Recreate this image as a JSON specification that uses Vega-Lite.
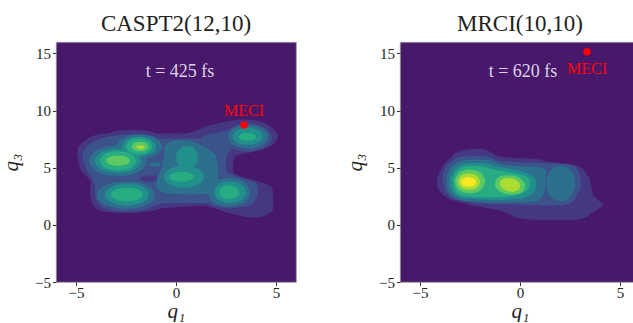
{
"$schema": "https://vega.github.io/schema/vega-lite/v6.json",
"background": "white",
"padding": {"left": 0, "top": 13, "right": 0, "bottom": 0},
"spacing": 47,
"config": {
  "view": {"fill": "#48186a", "stroke": "#999999", "strokeWidth": 0.8},
  "font": "Liberation Serif",
  "axis": {"grid": false, "domain": false, "tickColor": "#333333", "tickSize": 3.5, "labelFont": "Liberation Serif", "labelFontSize": 15, "labelColor": "#222222", "labelPadding": 2, "titleFont": "Liberation Serif", "titleFontSize": 21, "titleFontStyle": "italic", "titleFontWeight": "normal", "titleColor": "#222222"},
  "axisX": {"titlePadding": 0, "labelPadding": 0},
  "axisY": {"titlePadding": 13}
},
"data": {"values": [
{"p":"A","k":"c","z":1,"l":1,"g":"a1a","y":1.7,"x":-4.15,"x2":4.85},
{"p":"A","k":"c","z":1,"l":1,"g":"a1a","y":2.25,"x":-4.25,"x2":4.85},
{"p":"A","k":"c","z":1,"l":1,"g":"a1a","y":2.75,"x":-4.3,"x2":4.85},
{"p":"A","k":"c","z":1,"l":1,"g":"a1a","y":3.25,"x":-4.3,"x2":4.8},
{"p":"A","k":"c","z":1,"l":1,"g":"a1a","y":3.75,"x":-4.25,"x2":4.2},
{"p":"A","k":"c","z":1,"l":1,"g":"a1a","y":4.1,"x":-4.4,"x2":3.5},
{"p":"A","k":"c","z":1,"l":1,"g":"a1a","y":4.4,"x":-4.55,"x2":3.0},
{"p":"A","k":"c","z":1,"l":1,"g":"a1a","y":4.75,"x":-4.75,"x2":2.85},
{"p":"A","k":"c","z":1,"l":1,"g":"a1a","y":5.25,"x":-4.85,"x2":2.85},
{"p":"A","k":"c","z":1,"l":1,"g":"a1a","y":5.75,"x":-4.9,"x2":2.9},
{"p":"A","k":"c","z":1,"l":1,"g":"a1a","y":6.0,"x":-4.93,"x2":2.95},
{"p":"A","k":"c","z":1,"l":1,"g":"a1a","y":6.2,"x":-4.95,"x2":3.3},
{"p":"A","k":"c","z":1,"l":1,"g":"a1a","y":6.4,"x":-4.93,"x2":3.9},
{"p":"A","k":"c","z":1,"l":1,"g":"a1a","y":6.7,"x":-4.9,"x2":4.5},
{"p":"A","k":"c","z":1,"l":1,"g":"a1a","y":7.0,"x":-4.8,"x2":4.85},
{"p":"A","k":"c","z":1,"l":1,"g":"a1a","y":7.5,"x":-4.45,"x2":5.05},
{"p":"A","k":"c","z":1,"l":1,"g":"a1a","y":7.9,"x":-3.9,"x2":5.1},
{"p":"A","k":"c","z":1,"l":1,"g":"a1a","y":8.0,"x":-3.6,"x2":5.05},
{"p":"A","k":"c","z":1,"l":1,"g":"a1b","y":7.7,"x":-3.6,"x2":-0.9},
{"p":"A","k":"c","z":1,"l":1,"g":"a1b","y":8.05,"x":-3.3,"x2":-1.1},
{"p":"A","k":"c","z":1,"l":1,"g":"a1b","y":8.2,"x":-3.0,"x2":-1.35},
{"p":"A","k":"c","z":1,"l":1,"g":"a1b","y":8.3,"x":-2.5,"x2":-1.9},
{"p":"A","k":"c","z":1,"l":1,"g":"a1c","y":7.7,"x":-0.6,"x2":5.1},
{"p":"A","k":"c","z":1,"l":1,"g":"a1c","y":8.0,"x":0.5,"x2":5.05},
{"p":"A","k":"c","z":1,"l":1,"g":"a1c","y":8.25,"x":1.0,"x2":4.95},
{"p":"A","k":"c","z":1,"l":1,"g":"a1c","y":8.5,"x":1.3,"x2":4.8},
{"p":"A","k":"c","z":1,"l":1,"g":"a1c","y":8.75,"x":1.8,"x2":4.6},
{"p":"A","k":"c","z":1,"l":1,"g":"a1c","y":9.0,"x":2.4,"x2":4.3},
{"p":"A","k":"c","z":1,"l":1,"g":"a1c","y":9.15,"x":2.9,"x2":3.9},
{"p":"A","k":"c","z":1,"l":1,"g":"a1c","y":9.22,"x":3.3,"x2":3.5},
{"p":"A","k":"c","z":1,"l":1,"g":"a1d","y":1.05,"x":-3.0,"x2":-2.0},
{"p":"A","k":"c","z":1,"l":1,"g":"a1d","y":1.2,"x":-3.7,"x2":-1.3},
{"p":"A","k":"c","z":1,"l":1,"g":"a1d","y":1.45,"x":-4.0,"x2":-0.6},
{"p":"A","k":"c","z":1,"l":1,"g":"a1d","y":1.75,"x":-4.15,"x2":1.9},
{"p":"A","k":"c","z":1,"l":1,"g":"a1e","y":0.65,"x":3.6,"x2":4.2},
{"p":"A","k":"c","z":1,"l":1,"g":"a1e","y":0.8,"x":3.2,"x2":4.45},
{"p":"A","k":"c","z":1,"l":1,"g":"a1e","y":1.1,"x":2.5,"x2":4.75},
{"p":"A","k":"c","z":1,"l":1,"g":"a1e","y":1.4,"x":2.0,"x2":4.85},
{"p":"A","k":"c","z":1,"l":1,"g":"a1e","y":1.75,"x":1.3,"x2":4.85},
{"p":"A","k":"c","z":2,"l":2,"g":"a2a","y":1.9,"x":-3.9,"x2":3.9},
{"p":"A","k":"c","z":2,"l":2,"g":"a2a","y":2.25,"x":-4.0,"x2":4.0},
{"p":"A","k":"c","z":2,"l":2,"g":"a2a","y":2.75,"x":-4.05,"x2":4.1},
{"p":"A","k":"c","z":2,"l":2,"g":"a2a","y":3.25,"x":-4.05,"x2":4.1},
{"p":"A","k":"c","z":2,"l":2,"g":"a2a","y":3.75,"x":-4.1,"x2":3.9},
{"p":"A","k":"c","z":2,"l":2,"g":"a2a","y":4.1,"x":-4.2,"x2":3.25},
{"p":"A","k":"c","z":2,"l":2,"g":"a2a","y":4.4,"x":-4.3,"x2":2.8},
{"p":"A","k":"c","z":2,"l":2,"g":"a2a","y":4.75,"x":-4.45,"x2":2.5},
{"p":"A","k":"c","z":2,"l":2,"g":"a2a","y":5.25,"x":-4.55,"x2":2.5},
{"p":"A","k":"c","z":2,"l":2,"g":"a2a","y":5.75,"x":-4.65,"x2":2.5},
{"p":"A","k":"c","z":2,"l":2,"g":"a2a","y":6.25,"x":-4.65,"x2":2.6},
{"p":"A","k":"c","z":2,"l":2,"g":"a2a","y":6.75,"x":-4.5,"x2":2.8},
{"p":"A","k":"c","z":2,"l":2,"g":"a2a","y":7.25,"x":-4.15,"x2":3.0},
{"p":"A","k":"c","z":2,"l":2,"g":"a2a","y":7.55,"x":-3.7,"x2":2.6},
{"p":"A","k":"c","z":2,"l":2,"g":"a2b","y":7.4,"x":-3.9,"x2":-0.9},
{"p":"A","k":"c","z":2,"l":2,"g":"a2b","y":7.7,"x":-3.4,"x2":-1.0},
{"p":"A","k":"c","z":2,"l":2,"g":"a2b","y":7.85,"x":-2.9,"x2":-1.3},
{"p":"A","k":"c","z":2,"l":2,"g":"a2b","y":7.92,"x":-2.3,"x2":-1.8},
{"p":"A","k":"c","z":2,"l":2,"g":"a2c","y":6.4,"x":3.5,"x2":3.7},
{"p":"A","k":"c","z":2,"l":2,"g":"a2c","y":6.6,"x":2.95,"x2":4.2},
{"p":"A","k":"c","z":2,"l":2,"g":"a2c","y":7.0,"x":2.5,"x2":4.6},
{"p":"A","k":"c","z":2,"l":2,"g":"a2c","y":7.4,"x":1.6,"x2":4.75},
{"p":"A","k":"c","z":2,"l":2,"g":"a2c","y":7.65,"x":1.3,"x2":4.8},
{"p":"A","k":"c","z":2,"l":2,"g":"a2c","y":7.9,"x":1.6,"x2":4.75},
{"p":"A","k":"c","z":2,"l":2,"g":"a2c","y":8.25,"x":2.55,"x2":4.6},
{"p":"A","k":"c","z":2,"l":2,"g":"a2c","y":8.6,"x":2.9,"x2":4.3},
{"p":"A","k":"c","z":2,"l":2,"g":"a2c","y":8.85,"x":3.3,"x2":3.9},
{"p":"A","k":"c","z":2,"l":2,"g":"a2c","y":8.92,"x":3.55,"x2":3.65},
{"p":"A","k":"c","z":2,"l":2,"g":"a2d","y":1.15,"x":-2.8,"x2":-2.2},
{"p":"A","k":"c","z":2,"l":2,"g":"a2d","y":1.3,"x":-3.3,"x2":-1.6},
{"p":"A","k":"c","z":2,"l":2,"g":"a2d","y":1.6,"x":-3.75,"x2":-1.2},
{"p":"A","k":"c","z":2,"l":2,"g":"a2d","y":1.95,"x":-3.9,"x2":-0.5},
{"p":"A","k":"c","z":2,"l":2,"g":"a2e","y":1.45,"x":2.5,"x2":2.9},
{"p":"A","k":"c","z":2,"l":2,"g":"a2e","y":1.6,"x":2.0,"x2":3.5},
{"p":"A","k":"c","z":2,"l":2,"g":"a2e","y":1.95,"x":1.6,"x2":3.9},
{"p":"A","k":"c","z":3,"l":1,"g":"ap","y":3.75,"x":-1.3,"x2":-1.3},
{"p":"A","k":"c","z":3,"l":1,"g":"ap","y":3.85,"x":-1.65,"x2":-0.95},
{"p":"A","k":"c","z":3,"l":1,"g":"ap","y":4.05,"x":-1.8,"x2":-0.8},
{"p":"A","k":"c","z":3,"l":1,"g":"ap","y":4.25,"x":-1.65,"x2":-0.95},
{"p":"A","k":"c","z":3,"l":1,"g":"ap","y":4.35,"x":-1.3,"x2":-1.3},
{"p":"A","k":"c","z":4,"l":3,"g":"a3a","y":4.25,"x":-2.9,"x2":-2.9},
{"p":"A","k":"c","z":4,"l":3,"g":"a3a","y":4.318,"x":-3.352,"x2":-2.448},
{"p":"A","k":"c","z":4,"l":3,"g":"a3a","y":4.52,"x":-3.77,"x2":-2.03},
{"p":"A","k":"c","z":4,"l":3,"g":"a3a","y":4.925,"x":-4.156,"x2":-1.644},
{"p":"A","k":"c","z":4,"l":3,"g":"a3a","y":5.6,"x":-4.35,"x2":-1.45},
{"p":"A","k":"c","z":4,"l":3,"g":"a3a","y":6.275,"x":-4.156,"x2":-1.644},
{"p":"A","k":"c","z":4,"l":3,"g":"a3a","y":6.68,"x":-3.77,"x2":-2.03},
{"p":"A","k":"c","z":4,"l":3,"g":"a3a","y":6.883,"x":-3.352,"x2":-2.448},
{"p":"A","k":"c","z":4,"l":3,"g":"a3a","y":6.95,"x":-2.9,"x2":-2.9},
{"p":"A","k":"c","z":4,"l":3,"g":"a3b","y":5.8,"x":-1.85,"x2":-1.85},
{"p":"A","k":"c","z":4,"l":3,"g":"a3b","y":5.853,"x":-2.209,"x2":-1.491},
{"p":"A","k":"c","z":4,"l":3,"g":"a3b","y":6.01,"x":-2.54,"x2":-1.16},
{"p":"A","k":"c","z":4,"l":3,"g":"a3b","y":6.325,"x":-2.846,"x2":-0.854},
{"p":"A","k":"c","z":4,"l":3,"g":"a3b","y":6.85,"x":-3.0,"x2":-0.7},
{"p":"A","k":"c","z":4,"l":3,"g":"a3b","y":7.375,"x":-2.846,"x2":-0.854},
{"p":"A","k":"c","z":4,"l":3,"g":"a3b","y":7.69,"x":-2.54,"x2":-1.16},
{"p":"A","k":"c","z":4,"l":3,"g":"a3b","y":7.848,"x":-2.209,"x2":-1.491},
{"p":"A","k":"c","z":4,"l":3,"g":"a3b","y":7.9,"x":-1.85,"x2":-1.85},
{"p":"A","k":"c","z":4,"l":3,"g":"a3s","y":5.11,"x":-1.07,"x2":-1.07},
{"p":"A","k":"c","z":4,"l":3,"g":"a3s","y":5.144,"x":-1.268,"x2":-0.872},
{"p":"A","k":"c","z":4,"l":3,"g":"a3s","y":5.195,"x":-1.356,"x2":-0.784},
{"p":"A","k":"c","z":4,"l":3,"g":"a3s","y":5.28,"x":-1.4,"x2":-0.74},
{"p":"A","k":"c","z":4,"l":3,"g":"a3s","y":5.365,"x":-1.356,"x2":-0.784},
{"p":"A","k":"c","z":4,"l":3,"g":"a3s","y":5.416,"x":-1.268,"x2":-0.872},
{"p":"A","k":"c","z":4,"l":3,"g":"a3s","y":5.45,"x":-1.07,"x2":-1.07},
{"p":"A","k":"c","z":4,"l":3,"g":"a3m","y":2.65,"x":0.6,"x2":0.7},
{"p":"A","k":"c","z":4,"l":3,"g":"a3m","y":2.75,"x":-0.4,"x2":1.7},
{"p":"A","k":"c","z":4,"l":3,"g":"a3m","y":3.0,"x":-0.8,"x2":2.0},
{"p":"A","k":"c","z":4,"l":3,"g":"a3m","y":3.5,"x":-1.0,"x2":2.1},
{"p":"A","k":"c","z":4,"l":3,"g":"a3m","y":4.0,"x":-0.95,"x2":2.1},
{"p":"A","k":"c","z":4,"l":3,"g":"a3m","y":4.5,"x":-0.85,"x2":2.1},
{"p":"A","k":"c","z":4,"l":3,"g":"a3m","y":5.0,"x":-0.7,"x2":2.1},
{"p":"A","k":"c","z":4,"l":3,"g":"a3m","y":5.5,"x":-0.65,"x2":2.05},
{"p":"A","k":"c","z":4,"l":3,"g":"a3m","y":6.0,"x":-0.6,"x2":2.0},
{"p":"A","k":"c","z":4,"l":3,"g":"a3m","y":6.5,"x":-0.6,"x2":1.7},
{"p":"A","k":"c","z":4,"l":3,"g":"a3m","y":7.0,"x":-0.5,"x2":1.2},
{"p":"A","k":"c","z":4,"l":3,"g":"a3m","y":7.3,"x":-0.2,"x2":0.8},
{"p":"A","k":"c","z":4,"l":3,"g":"a3m","y":7.4,"x":0.3,"x2":0.4},
{"p":"A","k":"c","z":4,"l":3,"g":"a3c","y":1.4,"x":-2.5,"x2":-2.5},
{"p":"A","k":"c","z":4,"l":3,"g":"a3c","y":1.46,"x":-2.952,"x2":-2.048},
{"p":"A","k":"c","z":4,"l":3,"g":"a3c","y":1.64,"x":-3.37,"x2":-1.63},
{"p":"A","k":"c","z":4,"l":3,"g":"a3c","y":2.0,"x":-3.756,"x2":-1.244},
{"p":"A","k":"c","z":4,"l":3,"g":"a3c","y":2.6,"x":-3.95,"x2":-1.05},
{"p":"A","k":"c","z":4,"l":3,"g":"a3c","y":3.2,"x":-3.756,"x2":-1.244},
{"p":"A","k":"c","z":4,"l":3,"g":"a3c","y":3.56,"x":-3.37,"x2":-1.63},
{"p":"A","k":"c","z":4,"l":3,"g":"a3c","y":3.74,"x":-2.952,"x2":-2.048},
{"p":"A","k":"c","z":4,"l":3,"g":"a3c","y":3.8,"x":-2.5,"x2":-2.5},
{"p":"A","k":"c","z":4,"l":3,"g":"a3d","y":1.6,"x":2.65,"x2":2.65},
{"p":"A","k":"c","z":4,"l":3,"g":"a3d","y":1.663,"x":2.322,"x2":2.978},
{"p":"A","k":"c","z":4,"l":3,"g":"a3d","y":1.85,"x":2.02,"x2":3.28},
{"p":"A","k":"c","z":4,"l":3,"g":"a3d","y":2.225,"x":1.741,"x2":3.559},
{"p":"A","k":"c","z":4,"l":3,"g":"a3d","y":2.85,"x":1.6,"x2":3.7},
{"p":"A","k":"c","z":4,"l":3,"g":"a3d","y":3.475,"x":1.741,"x2":3.559},
{"p":"A","k":"c","z":4,"l":3,"g":"a3d","y":3.85,"x":2.02,"x2":3.28},
{"p":"A","k":"c","z":4,"l":3,"g":"a3d","y":4.038,"x":2.322,"x2":2.978},
{"p":"A","k":"c","z":4,"l":3,"g":"a3d","y":4.1,"x":2.65,"x2":2.65},
{"p":"A","k":"c","z":4,"l":3,"g":"a3e","y":6.7,"x":3.6,"x2":3.6},
{"p":"A","k":"c","z":4,"l":3,"g":"a3e","y":6.751,"x":3.288,"x2":3.912},
{"p":"A","k":"c","z":4,"l":3,"g":"a3e","y":6.904,"x":3.0,"x2":4.2},
{"p":"A","k":"c","z":4,"l":3,"g":"a3e","y":7.21,"x":2.734,"x2":4.466},
{"p":"A","k":"c","z":4,"l":3,"g":"a3e","y":7.72,"x":2.6,"x2":4.6},
{"p":"A","k":"c","z":4,"l":3,"g":"a3e","y":8.23,"x":2.734,"x2":4.466},
{"p":"A","k":"c","z":4,"l":3,"g":"a3e","y":8.536,"x":3.0,"x2":4.2},
{"p":"A","k":"c","z":4,"l":3,"g":"a3e","y":8.689,"x":3.288,"x2":3.912},
{"p":"A","k":"c","z":4,"l":3,"g":"a3e","y":8.74,"x":3.6,"x2":3.6},
{"p":"A","k":"c","z":5,"l":4,"g":"a4a","y":4.55,"x":-2.9,"x2":-2.9},
{"p":"A","k":"c","z":5,"l":4,"g":"a4a","y":4.603,"x":-3.259,"x2":-2.541},
{"p":"A","k":"c","z":5,"l":4,"g":"a4a","y":4.76,"x":-3.59,"x2":-2.21},
{"p":"A","k":"c","z":5,"l":4,"g":"a4a","y":5.075,"x":-3.896,"x2":-1.904},
{"p":"A","k":"c","z":5,"l":4,"g":"a4a","y":5.6,"x":-4.05,"x2":-1.75},
{"p":"A","k":"c","z":5,"l":4,"g":"a4a","y":6.125,"x":-3.896,"x2":-1.904},
{"p":"A","k":"c","z":5,"l":4,"g":"a4a","y":6.44,"x":-3.59,"x2":-2.21},
{"p":"A","k":"c","z":5,"l":4,"g":"a4a","y":6.598,"x":-3.259,"x2":-2.541},
{"p":"A","k":"c","z":5,"l":4,"g":"a4a","y":6.65,"x":-2.9,"x2":-2.9},
{"p":"A","k":"c","z":5,"l":4,"g":"a4b","y":6.0,"x":-1.85,"x2":-1.85},
{"p":"A","k":"c","z":5,"l":4,"g":"a4b","y":6.043,"x":-2.115,"x2":-1.585},
{"p":"A","k":"c","z":5,"l":4,"g":"a4b","y":6.17,"x":-2.36,"x2":-1.34},
{"p":"A","k":"c","z":5,"l":4,"g":"a4b","y":6.425,"x":-2.586,"x2":-1.114},
{"p":"A","k":"c","z":5,"l":4,"g":"a4b","y":6.85,"x":-2.7,"x2":-1.0},
{"p":"A","k":"c","z":5,"l":4,"g":"a4b","y":7.275,"x":-2.586,"x2":-1.114},
{"p":"A","k":"c","z":5,"l":4,"g":"a4b","y":7.53,"x":-2.36,"x2":-1.34},
{"p":"A","k":"c","z":5,"l":4,"g":"a4b","y":7.658,"x":-2.115,"x2":-1.585},
{"p":"A","k":"c","z":5,"l":4,"g":"a4b","y":7.7,"x":-1.85,"x2":-1.85},
{"p":"A","k":"c","z":5,"l":4,"g":"a4c","y":4.9,"x":0.55,"x2":0.55},
{"p":"A","k":"c","z":5,"l":4,"g":"a4c","y":4.95,"x":0.378,"x2":0.722},
{"p":"A","k":"c","z":5,"l":4,"g":"a4c","y":5.1,"x":0.22,"x2":0.88},
{"p":"A","k":"c","z":5,"l":4,"g":"a4c","y":5.4,"x":0.074,"x2":1.026},
{"p":"A","k":"c","z":5,"l":4,"g":"a4c","y":5.9,"x":0.0,"x2":1.1},
{"p":"A","k":"c","z":5,"l":4,"g":"a4c","y":6.4,"x":0.074,"x2":1.026},
{"p":"A","k":"c","z":5,"l":4,"g":"a4c","y":6.7,"x":0.22,"x2":0.88},
{"p":"A","k":"c","z":5,"l":4,"g":"a4c","y":6.85,"x":0.378,"x2":0.722},
{"p":"A","k":"c","z":5,"l":4,"g":"a4c","y":6.9,"x":0.55,"x2":0.55},
{"p":"A","k":"c","z":5,"l":4,"g":"a4d","y":3.25,"x":0.4,"x2":0.4},
{"p":"A","k":"c","z":5,"l":4,"g":"a4d","y":3.298,"x":0.088,"x2":0.712},
{"p":"A","k":"c","z":5,"l":4,"g":"a4d","y":3.44,"x":-0.2,"x2":1.0},
{"p":"A","k":"c","z":5,"l":4,"g":"a4d","y":3.725,"x":-0.466,"x2":1.266},
{"p":"A","k":"c","z":5,"l":4,"g":"a4d","y":4.2,"x":-0.6,"x2":1.4},
{"p":"A","k":"c","z":5,"l":4,"g":"a4d","y":4.675,"x":-0.466,"x2":1.266},
{"p":"A","k":"c","z":5,"l":4,"g":"a4d","y":4.96,"x":-0.2,"x2":1.0},
{"p":"A","k":"c","z":5,"l":4,"g":"a4d","y":5.103,"x":0.088,"x2":0.712},
{"p":"A","k":"c","z":5,"l":4,"g":"a4d","y":5.15,"x":0.4,"x2":0.4},
{"p":"A","k":"c","z":5,"l":4,"g":"a4e","y":1.7,"x":-2.45,"x2":-2.45},
{"p":"A","k":"c","z":5,"l":4,"g":"a4e","y":1.748,"x":-2.793,"x2":-2.107},
{"p":"A","k":"c","z":5,"l":4,"g":"a4e","y":1.89,"x":-3.11,"x2":-1.79},
{"p":"A","k":"c","z":5,"l":4,"g":"a4e","y":2.175,"x":-3.403,"x2":-1.497},
{"p":"A","k":"c","z":5,"l":4,"g":"a4e","y":2.65,"x":-3.55,"x2":-1.35},
{"p":"A","k":"c","z":5,"l":4,"g":"a4e","y":3.125,"x":-3.403,"x2":-1.497},
{"p":"A","k":"c","z":5,"l":4,"g":"a4e","y":3.41,"x":-3.11,"x2":-1.79},
{"p":"A","k":"c","z":5,"l":4,"g":"a4e","y":3.553,"x":-2.793,"x2":-2.107},
{"p":"A","k":"c","z":5,"l":4,"g":"a4e","y":3.6,"x":-2.45,"x2":-2.45},
{"p":"A","k":"c","z":5,"l":4,"g":"a4f","y":1.9,"x":2.7,"x2":2.7},
{"p":"A","k":"c","z":5,"l":4,"g":"a4f","y":1.948,"x":2.45,"x2":2.95},
{"p":"A","k":"c","z":5,"l":4,"g":"a4f","y":2.09,"x":2.22,"x2":3.18},
{"p":"A","k":"c","z":5,"l":4,"g":"a4f","y":2.375,"x":2.007,"x2":3.393},
{"p":"A","k":"c","z":5,"l":4,"g":"a4f","y":2.85,"x":1.9,"x2":3.5},
{"p":"A","k":"c","z":5,"l":4,"g":"a4f","y":3.325,"x":2.007,"x2":3.393},
{"p":"A","k":"c","z":5,"l":4,"g":"a4f","y":3.61,"x":2.22,"x2":3.18},
{"p":"A","k":"c","z":5,"l":4,"g":"a4f","y":3.753,"x":2.45,"x2":2.95},
{"p":"A","k":"c","z":5,"l":4,"g":"a4f","y":3.8,"x":2.7,"x2":2.7},
{"p":"A","k":"c","z":5,"l":4,"g":"a4g","y":7.0,"x":3.6,"x2":3.6},
{"p":"A","k":"c","z":5,"l":4,"g":"a4g","y":7.038,"x":3.366,"x2":3.834},
{"p":"A","k":"c","z":5,"l":4,"g":"a4g","y":7.15,"x":3.15,"x2":4.05},
{"p":"A","k":"c","z":5,"l":4,"g":"a4g","y":7.375,"x":2.95,"x2":4.25},
{"p":"A","k":"c","z":5,"l":4,"g":"a4g","y":7.75,"x":2.85,"x2":4.35},
{"p":"A","k":"c","z":5,"l":4,"g":"a4g","y":8.125,"x":2.95,"x2":4.25},
{"p":"A","k":"c","z":5,"l":4,"g":"a4g","y":8.35,"x":3.15,"x2":4.05},
{"p":"A","k":"c","z":5,"l":4,"g":"a4g","y":8.463,"x":3.366,"x2":3.834},
{"p":"A","k":"c","z":5,"l":4,"g":"a4g","y":8.5,"x":3.6,"x2":3.6},
{"p":"A","k":"c","z":6,"l":5,"g":"a5a","y":4.75,"x":-2.9,"x2":-2.9},
{"p":"A","k":"c","z":6,"l":5,"g":"a5a","y":4.793,"x":-3.181,"x2":-2.619},
{"p":"A","k":"c","z":6,"l":5,"g":"a5a","y":4.92,"x":-3.44,"x2":-2.36},
{"p":"A","k":"c","z":6,"l":5,"g":"a5a","y":5.175,"x":-3.679,"x2":-2.121},
{"p":"A","k":"c","z":6,"l":5,"g":"a5a","y":5.6,"x":-3.8,"x2":-2.0},
{"p":"A","k":"c","z":6,"l":5,"g":"a5a","y":6.025,"x":-3.679,"x2":-2.121},
{"p":"A","k":"c","z":6,"l":5,"g":"a5a","y":6.28,"x":-3.44,"x2":-2.36},
{"p":"A","k":"c","z":6,"l":5,"g":"a5a","y":6.408,"x":-3.181,"x2":-2.619},
{"p":"A","k":"c","z":6,"l":5,"g":"a5a","y":6.45,"x":-2.9,"x2":-2.9},
{"p":"A","k":"c","z":6,"l":5,"g":"a5b","y":6.15,"x":-1.85,"x2":-1.85},
{"p":"A","k":"c","z":6,"l":5,"g":"a5b","y":6.185,"x":-2.053,"x2":-1.647},
{"p":"A","k":"c","z":6,"l":5,"g":"a5b","y":6.29,"x":-2.24,"x2":-1.46},
{"p":"A","k":"c","z":6,"l":5,"g":"a5b","y":6.5,"x":-2.413,"x2":-1.287},
{"p":"A","k":"c","z":6,"l":5,"g":"a5b","y":6.85,"x":-2.5,"x2":-1.2},
{"p":"A","k":"c","z":6,"l":5,"g":"a5b","y":7.2,"x":-2.413,"x2":-1.287},
{"p":"A","k":"c","z":6,"l":5,"g":"a5b","y":7.41,"x":-2.24,"x2":-1.46},
{"p":"A","k":"c","z":6,"l":5,"g":"a5b","y":7.515,"x":-2.053,"x2":-1.647},
{"p":"A","k":"c","z":6,"l":5,"g":"a5b","y":7.55,"x":-1.85,"x2":-1.85},
{"p":"A","k":"c","z":6,"l":5,"g":"a5c","y":3.77,"x":0.28,"x2":0.28},
{"p":"A","k":"c","z":6,"l":5,"g":"a5c","y":3.79,"x":0.087,"x2":0.473},
{"p":"A","k":"c","z":6,"l":5,"g":"a5c","y":3.856,"x":-0.092,"x2":0.652},
{"p":"A","k":"c","z":6,"l":5,"g":"a5c","y":3.985,"x":-0.257,"x2":0.817},
{"p":"A","k":"c","z":6,"l":5,"g":"a5c","y":4.2,"x":-0.34,"x2":0.9},
{"p":"A","k":"c","z":6,"l":5,"g":"a5c","y":4.415,"x":-0.257,"x2":0.817},
{"p":"A","k":"c","z":6,"l":5,"g":"a5c","y":4.544,"x":-0.092,"x2":0.652},
{"p":"A","k":"c","z":6,"l":5,"g":"a5c","y":4.609,"x":0.087,"x2":0.473},
{"p":"A","k":"c","z":6,"l":5,"g":"a5c","y":4.63,"x":0.28,"x2":0.28},
{"p":"A","k":"c","z":6,"l":5,"g":"a5d","y":2.05,"x":-2.45,"x2":-2.45},
{"p":"A","k":"c","z":6,"l":5,"g":"a5d","y":2.08,"x":-2.7,"x2":-2.2},
{"p":"A","k":"c","z":6,"l":5,"g":"a5d","y":2.17,"x":-2.93,"x2":-1.97},
{"p":"A","k":"c","z":6,"l":5,"g":"a5d","y":2.35,"x":-3.143,"x2":-1.757},
{"p":"A","k":"c","z":6,"l":5,"g":"a5d","y":2.65,"x":-3.25,"x2":-1.65},
{"p":"A","k":"c","z":6,"l":5,"g":"a5d","y":2.95,"x":-3.143,"x2":-1.757},
{"p":"A","k":"c","z":6,"l":5,"g":"a5d","y":3.13,"x":-2.93,"x2":-1.97},
{"p":"A","k":"c","z":6,"l":5,"g":"a5d","y":3.22,"x":-2.7,"x2":-2.2},
{"p":"A","k":"c","z":6,"l":5,"g":"a5d","y":3.25,"x":-2.45,"x2":-2.45},
{"p":"A","k":"c","z":6,"l":5,"g":"a5e","y":2.25,"x":2.65,"x2":2.65},
{"p":"A","k":"c","z":6,"l":5,"g":"a5e","y":2.28,"x":2.494,"x2":2.806},
{"p":"A","k":"c","z":6,"l":5,"g":"a5e","y":2.37,"x":2.35,"x2":2.95},
{"p":"A","k":"c","z":6,"l":5,"g":"a5e","y":2.55,"x":2.217,"x2":3.083},
{"p":"A","k":"c","z":6,"l":5,"g":"a5e","y":2.85,"x":2.15,"x2":3.15},
{"p":"A","k":"c","z":6,"l":5,"g":"a5e","y":3.15,"x":2.217,"x2":3.083},
{"p":"A","k":"c","z":6,"l":5,"g":"a5e","y":3.33,"x":2.35,"x2":2.95},
{"p":"A","k":"c","z":6,"l":5,"g":"a5e","y":3.42,"x":2.494,"x2":2.806},
{"p":"A","k":"c","z":6,"l":5,"g":"a5e","y":3.45,"x":2.65,"x2":2.65},
{"p":"A","k":"c","z":6,"l":5,"g":"a5f","y":7.37,"x":3.57,"x2":3.57},
{"p":"A","k":"c","z":6,"l":5,"g":"a5f","y":7.387,"x":3.436,"x2":3.704},
{"p":"A","k":"c","z":6,"l":5,"g":"a5f","y":7.436,"x":3.312,"x2":3.828},
{"p":"A","k":"c","z":6,"l":5,"g":"a5f","y":7.535,"x":3.198,"x2":3.942},
{"p":"A","k":"c","z":6,"l":5,"g":"a5f","y":7.7,"x":3.14,"x2":4.0},
{"p":"A","k":"c","z":6,"l":5,"g":"a5f","y":7.865,"x":3.198,"x2":3.942},
{"p":"A","k":"c","z":6,"l":5,"g":"a5f","y":7.964,"x":3.312,"x2":3.828},
{"p":"A","k":"c","z":6,"l":5,"g":"a5f","y":8.014,"x":3.436,"x2":3.704},
{"p":"A","k":"c","z":6,"l":5,"g":"a5f","y":8.03,"x":3.57,"x2":3.57},
{"p":"A","k":"c","z":7,"l":6,"g":"a6a","y":5.17,"x":-2.9,"x2":-2.9},
{"p":"A","k":"c","z":7,"l":6,"g":"a6a","y":5.193,"x":-3.087,"x2":-2.713},
{"p":"A","k":"c","z":7,"l":6,"g":"a6a","y":5.26,"x":-3.26,"x2":-2.54},
{"p":"A","k":"c","z":7,"l":6,"g":"a6a","y":5.395,"x":-3.42,"x2":-2.38},
{"p":"A","k":"c","z":7,"l":6,"g":"a6a","y":5.62,"x":-3.5,"x2":-2.3},
{"p":"A","k":"c","z":7,"l":6,"g":"a6a","y":5.845,"x":-3.42,"x2":-2.38},
{"p":"A","k":"c","z":7,"l":6,"g":"a6a","y":5.98,"x":-3.26,"x2":-2.54},
{"p":"A","k":"c","z":7,"l":6,"g":"a6a","y":6.048,"x":-3.087,"x2":-2.713},
{"p":"A","k":"c","z":7,"l":6,"g":"a6a","y":6.07,"x":-2.9,"x2":-2.9},
{"p":"A","k":"c","z":7,"l":6,"g":"a6b","y":6.43,"x":-1.8,"x2":-1.8},
{"p":"A","k":"c","z":7,"l":6,"g":"a6b","y":6.451,"x":-1.931,"x2":-1.669},
{"p":"A","k":"c","z":7,"l":6,"g":"a6b","y":6.514,"x":-2.052,"x2":-1.548},
{"p":"A","k":"c","z":7,"l":6,"g":"a6b","y":6.64,"x":-2.164,"x2":-1.436},
{"p":"A","k":"c","z":7,"l":6,"g":"a6b","y":6.85,"x":-2.22,"x2":-1.38},
{"p":"A","k":"c","z":7,"l":6,"g":"a6b","y":7.06,"x":-2.164,"x2":-1.436},
{"p":"A","k":"c","z":7,"l":6,"g":"a6b","y":7.186,"x":-2.052,"x2":-1.548},
{"p":"A","k":"c","z":7,"l":6,"g":"a6b","y":7.249,"x":-1.931,"x2":-1.669},
{"p":"A","k":"c","z":7,"l":6,"g":"a6b","y":7.27,"x":-1.8,"x2":-1.8},
{"p":"A","k":"c","z":8,"l":7,"g":"a7a","y":6.63,"x":-1.78,"x2":-1.78},
{"p":"A","k":"c","z":8,"l":7,"g":"a7a","y":6.664,"x":-1.9,"x2":-1.66},
{"p":"A","k":"c","z":8,"l":7,"g":"a7a","y":6.715,"x":-1.953,"x2":-1.607},
{"p":"A","k":"c","z":8,"l":7,"g":"a7a","y":6.8,"x":-1.98,"x2":-1.58},
{"p":"A","k":"c","z":8,"l":7,"g":"a7a","y":6.885,"x":-1.953,"x2":-1.607},
{"p":"A","k":"c","z":8,"l":7,"g":"a7a","y":6.936,"x":-1.9,"x2":-1.66},
{"p":"A","k":"c","z":8,"l":7,"g":"a7a","y":6.97,"x":-1.78,"x2":-1.78},
{"p":"B","k":"c","z":1,"l":1,"g":"b1a","y":0.45,"x":0.5,"x2":2.8},
{"p":"B","k":"c","z":1,"l":1,"g":"b1a","y":0.6,"x":-0.1,"x2":3.2},
{"p":"B","k":"c","z":1,"l":1,"g":"b1a","y":0.9,"x":-0.5,"x2":3.5},
{"p":"B","k":"c","z":1,"l":1,"g":"b1a","y":1.25,"x":-1.05,"x2":3.8},
{"p":"B","k":"c","z":1,"l":1,"g":"b1a","y":1.6,"x":-2.1,"x2":4.1},
{"p":"B","k":"c","z":1,"l":1,"g":"b1a","y":1.8,"x":-2.6,"x2":4.15},
{"p":"B","k":"c","z":1,"l":1,"g":"b1a","y":2.1,"x":-3.3,"x2":3.95},
{"p":"B","k":"c","z":1,"l":1,"g":"b1a","y":2.5,"x":-3.75,"x2":3.7},
{"p":"B","k":"c","z":1,"l":1,"g":"b1a","y":3.0,"x":-4.05,"x2":3.6},
{"p":"B","k":"c","z":1,"l":1,"g":"b1a","y":3.5,"x":-4.15,"x2":3.55},
{"p":"B","k":"c","z":1,"l":1,"g":"b1a","y":4.0,"x":-4.15,"x2":3.5},
{"p":"B","k":"c","z":1,"l":1,"g":"b1a","y":4.5,"x":-4.05,"x2":3.3},
{"p":"B","k":"c","z":1,"l":1,"g":"b1a","y":5.0,"x":-3.9,"x2":3.05},
{"p":"B","k":"c","z":1,"l":1,"g":"b1a","y":5.3,"x":-3.8,"x2":2.6},
{"p":"B","k":"c","z":1,"l":1,"g":"b1a","y":5.5,"x":-3.7,"x2":1.5},
{"p":"B","k":"c","z":1,"l":1,"g":"b1a","y":5.75,"x":-3.55,"x2":0.9},
{"p":"B","k":"c","z":1,"l":1,"g":"b1a","y":5.9,"x":-3.45,"x2":-0.6},
{"p":"B","k":"c","z":1,"l":1,"g":"b1a","y":6.1,"x":-3.35,"x2":-1.2},
{"p":"B","k":"c","z":1,"l":1,"g":"b1a","y":6.35,"x":-3.15,"x2":-1.45},
{"p":"B","k":"c","z":1,"l":1,"g":"b1a","y":6.55,"x":-2.75,"x2":-1.7},
{"p":"B","k":"c","z":1,"l":1,"g":"b1a","y":6.65,"x":-2.2,"x2":-2.0},
{"p":"B","k":"c","z":2,"l":2,"g":"b2a","y":1.7,"x":0.9,"x2":2.0},
{"p":"B","k":"c","z":2,"l":2,"g":"b2a","y":1.8,"x":-1.5,"x2":2.45},
{"p":"B","k":"c","z":2,"l":2,"g":"b2a","y":2.0,"x":-2.6,"x2":2.6},
{"p":"B","k":"c","z":2,"l":2,"g":"b2a","y":2.25,"x":-3.25,"x2":2.75},
{"p":"B","k":"c","z":2,"l":2,"g":"b2a","y":2.75,"x":-3.65,"x2":2.9},
{"p":"B","k":"c","z":2,"l":2,"g":"b2a","y":3.25,"x":-3.8,"x2":3.05},
{"p":"B","k":"c","z":2,"l":2,"g":"b2a","y":3.75,"x":-3.85,"x2":3.05},
{"p":"B","k":"c","z":2,"l":2,"g":"b2a","y":4.25,"x":-3.85,"x2":3.0},
{"p":"B","k":"c","z":2,"l":2,"g":"b2a","y":4.75,"x":-3.8,"x2":2.9},
{"p":"B","k":"c","z":2,"l":2,"g":"b2a","y":5.1,"x":-3.7,"x2":2.75},
{"p":"B","k":"c","z":2,"l":2,"g":"b2a","y":5.3,"x":-3.6,"x2":2.4},
{"p":"B","k":"c","z":2,"l":2,"g":"b2a","y":5.45,"x":-3.5,"x2":0.5},
{"p":"B","k":"c","z":2,"l":2,"g":"b2a","y":5.6,"x":-3.4,"x2":-1.1},
{"p":"B","k":"c","z":2,"l":2,"g":"b2a","y":5.85,"x":-3.2,"x2":-1.35},
{"p":"B","k":"c","z":2,"l":2,"g":"b2a","y":6.0,"x":-2.9,"x2":-1.7},
{"p":"B","k":"c","z":2,"l":2,"g":"b2a","y":6.05,"x":-2.4,"x2":-2.1},
{"p":"B","k":"c","z":4,"l":3,"g":"b3a","y":1.95,"x":-1.2,"x2":0.2},
{"p":"B","k":"c","z":4,"l":3,"g":"b3a","y":2.05,"x":-2.5,"x2":0.8},
{"p":"B","k":"c","z":4,"l":3,"g":"b3a","y":2.25,"x":-3.1,"x2":1.0},
{"p":"B","k":"c","z":4,"l":3,"g":"b3a","y":2.75,"x":-3.5,"x2":1.2},
{"p":"B","k":"c","z":4,"l":3,"g":"b3a","y":3.25,"x":-3.65,"x2":1.25},
{"p":"B","k":"c","z":4,"l":3,"g":"b3a","y":3.75,"x":-3.65,"x2":1.25},
{"p":"B","k":"c","z":4,"l":3,"g":"b3a","y":4.25,"x":-3.65,"x2":1.3},
{"p":"B","k":"c","z":4,"l":3,"g":"b3a","y":4.75,"x":-3.55,"x2":1.3},
{"p":"B","k":"c","z":4,"l":3,"g":"b3a","y":5.05,"x":-3.45,"x2":1.0},
{"p":"B","k":"c","z":4,"l":3,"g":"b3a","y":5.2,"x":-3.35,"x2":-0.6},
{"p":"B","k":"c","z":4,"l":3,"g":"b3a","y":5.45,"x":-3.15,"x2":-1.2},
{"p":"B","k":"c","z":4,"l":3,"g":"b3a","y":5.65,"x":-2.8,"x2":-1.5},
{"p":"B","k":"c","z":4,"l":3,"g":"b3a","y":5.72,"x":-2.3,"x2":-2.0},
{"p":"B","k":"c","z":4,"l":3,"g":"b3b","y":2.08,"x":2.03,"x2":2.03},
{"p":"B","k":"c","z":4,"l":3,"g":"b3b","y":2.158,"x":1.802,"x2":2.258},
{"p":"B","k":"c","z":4,"l":3,"g":"b3b","y":2.39,"x":1.592,"x2":2.468},
{"p":"B","k":"c","z":4,"l":3,"g":"b3b","y":2.855,"x":1.398,"x2":2.662},
{"p":"B","k":"c","z":4,"l":3,"g":"b3b","y":3.63,"x":1.3,"x2":2.76},
{"p":"B","k":"c","z":4,"l":3,"g":"b3b","y":4.405,"x":1.398,"x2":2.662},
{"p":"B","k":"c","z":4,"l":3,"g":"b3b","y":4.87,"x":1.592,"x2":2.468},
{"p":"B","k":"c","z":4,"l":3,"g":"b3b","y":5.103,"x":1.802,"x2":2.258},
{"p":"B","k":"c","z":4,"l":3,"g":"b3b","y":5.18,"x":2.03,"x2":2.03},
{"p":"B","k":"c","z":5,"l":4,"g":"b4a","y":2.2,"x":-1.6,"x2":-0.8},
{"p":"B","k":"c","z":5,"l":4,"g":"b4a","y":2.3,"x":-2.7,"x2":0.0},
{"p":"B","k":"c","z":5,"l":4,"g":"b4a","y":2.5,"x":-3.1,"x2":0.4},
{"p":"B","k":"c","z":5,"l":4,"g":"b4a","y":3.0,"x":-3.4,"x2":0.75},
{"p":"B","k":"c","z":5,"l":4,"g":"b4a","y":3.5,"x":-3.5,"x2":0.8},
{"p":"B","k":"c","z":5,"l":4,"g":"b4a","y":4.0,"x":-3.5,"x2":0.75},
{"p":"B","k":"c","z":5,"l":4,"g":"b4a","y":4.5,"x":-3.4,"x2":0.4},
{"p":"B","k":"c","z":5,"l":4,"g":"b4a","y":4.9,"x":-3.25,"x2":-0.5},
{"p":"B","k":"c","z":5,"l":4,"g":"b4a","y":5.15,"x":-3.05,"x2":-1.3},
{"p":"B","k":"c","z":5,"l":4,"g":"b4a","y":5.35,"x":-2.7,"x2":-1.6},
{"p":"B","k":"c","z":5,"l":4,"g":"b4a","y":5.42,"x":-2.2,"x2":-2.0},
{"p":"B","k":"c","z":6,"l":5,"g":"b5a","y":2.42,"x":-2.0,"x2":-1.2},
{"p":"B","k":"c","z":6,"l":5,"g":"b5a","y":2.5,"x":-2.7,"x2":-0.5},
{"p":"B","k":"c","z":6,"l":5,"g":"b5a","y":2.75,"x":-3.1,"x2":0.1},
{"p":"B","k":"c","z":6,"l":5,"g":"b5a","y":3.25,"x":-3.3,"x2":0.45},
{"p":"B","k":"c","z":6,"l":5,"g":"b5a","y":3.75,"x":-3.35,"x2":0.5},
{"p":"B","k":"c","z":6,"l":5,"g":"b5a","y":4.25,"x":-3.3,"x2":0.3},
{"p":"B","k":"c","z":6,"l":5,"g":"b5a","y":4.6,"x":-3.2,"x2":-0.6},
{"p":"B","k":"c","z":6,"l":5,"g":"b5a","y":4.9,"x":-3.0,"x2":-1.5},
{"p":"B","k":"c","z":6,"l":5,"g":"b5a","y":5.1,"x":-2.7,"x2":-1.9},
{"p":"B","k":"c","z":6,"l":5,"g":"b5a","y":5.17,"x":-2.4,"x2":-2.2},
{"p":"B","k":"c","z":7,"l":6,"g":"b6a","y":2.75,"x":-2.5,"x2":-2.5},
{"p":"B","k":"c","z":7,"l":6,"g":"b6a","y":2.803,"x":-2.734,"x2":-2.266},
{"p":"B","k":"c","z":7,"l":6,"g":"b6a","y":2.96,"x":-2.95,"x2":-2.05},
{"p":"B","k":"c","z":7,"l":6,"g":"b6a","y":3.275,"x":-3.15,"x2":-1.85},
{"p":"B","k":"c","z":7,"l":6,"g":"b6a","y":3.8,"x":-3.25,"x2":-1.75},
{"p":"B","k":"c","z":7,"l":6,"g":"b6a","y":4.325,"x":-3.15,"x2":-1.85},
{"p":"B","k":"c","z":7,"l":6,"g":"b6a","y":4.64,"x":-2.95,"x2":-2.05},
{"p":"B","k":"c","z":7,"l":6,"g":"b6a","y":4.798,"x":-2.734,"x2":-2.266},
{"p":"B","k":"c","z":7,"l":6,"g":"b6a","y":4.85,"x":-2.5,"x2":-2.5},
{"p":"B","k":"c","z":7,"l":6,"g":"b6b","y":2.65,"x":-0.4,"x2":-0.4},
{"p":"B","k":"c","z":7,"l":6,"g":"b6b","y":2.693,"x":-0.644,"x2":-0.176},
{"p":"B","k":"c","z":7,"l":6,"g":"b6b","y":2.82,"x":-0.87,"x2":0.03},
{"p":"B","k":"c","z":7,"l":6,"g":"b6b","y":3.075,"x":-1.1,"x2":0.2},
{"p":"B","k":"c","z":7,"l":6,"g":"b6b","y":3.5,"x":-1.25,"x2":0.25},
{"p":"B","k":"c","z":7,"l":6,"g":"b6b","y":3.925,"x":-1.2,"x2":0.1},
{"p":"B","k":"c","z":7,"l":6,"g":"b6b","y":4.18,"x":-1.03,"x2":-0.13},
{"p":"B","k":"c","z":7,"l":6,"g":"b6b","y":4.308,"x":-0.824,"x2":-0.356},
{"p":"B","k":"c","z":7,"l":6,"g":"b6b","y":4.35,"x":-0.6,"x2":-0.6},
{"p":"B","k":"c","z":8,"l":7,"g":"b7a","y":3.06,"x":-2.55,"x2":-2.55},
{"p":"B","k":"c","z":8,"l":7,"g":"b7a","y":3.096,"x":-2.722,"x2":-2.378},
{"p":"B","k":"c","z":8,"l":7,"g":"b7a","y":3.204,"x":-2.88,"x2":-2.22},
{"p":"B","k":"c","z":8,"l":7,"g":"b7a","y":3.42,"x":-3.026,"x2":-2.074},
{"p":"B","k":"c","z":8,"l":7,"g":"b7a","y":3.78,"x":-3.1,"x2":-2.0},
{"p":"B","k":"c","z":8,"l":7,"g":"b7a","y":4.14,"x":-3.026,"x2":-2.074},
{"p":"B","k":"c","z":8,"l":7,"g":"b7a","y":4.356,"x":-2.88,"x2":-2.22},
{"p":"B","k":"c","z":8,"l":7,"g":"b7a","y":4.464,"x":-2.722,"x2":-2.378},
{"p":"B","k":"c","z":8,"l":7,"g":"b7a","y":4.5,"x":-2.55,"x2":-2.55},
{"p":"B","k":"c","z":8,"l":7,"g":"b7b","y":2.9,"x":-0.4,"x2":-0.4},
{"p":"B","k":"c","z":8,"l":7,"g":"b7b","y":2.93,"x":-0.566,"x2":-0.254},
{"p":"B","k":"c","z":8,"l":7,"g":"b7b","y":3.02,"x":-0.72,"x2":-0.12},
{"p":"B","k":"c","z":8,"l":7,"g":"b7b","y":3.2,"x":-0.883,"x2":-0.017},
{"p":"B","k":"c","z":8,"l":7,"g":"b7b","y":3.5,"x":-1.0,"x2":0.0},
{"p":"B","k":"c","z":8,"l":7,"g":"b7b","y":3.8,"x":-0.983,"x2":-0.117},
{"p":"B","k":"c","z":8,"l":7,"g":"b7b","y":3.98,"x":-0.88,"x2":-0.28},
{"p":"B","k":"c","z":8,"l":7,"g":"b7b","y":4.07,"x":-0.746,"x2":-0.434},
{"p":"B","k":"c","z":8,"l":7,"g":"b7b","y":4.1,"x":-0.6,"x2":-0.6},
{"p":"B","k":"c","z":9,"l":8,"g":"b8a","y":3.33,"x":-2.57,"x2":-2.57},
{"p":"B","k":"c","z":9,"l":8,"g":"b8a","y":3.351,"x":-2.689,"x2":-2.451},
{"p":"B","k":"c","z":9,"l":8,"g":"b8a","y":3.414,"x":-2.798,"x2":-2.342},
{"p":"B","k":"c","z":9,"l":8,"g":"b8a","y":3.54,"x":-2.899,"x2":-2.241},
{"p":"B","k":"c","z":9,"l":8,"g":"b8a","y":3.75,"x":-2.95,"x2":-2.19},
{"p":"B","k":"c","z":9,"l":8,"g":"b8a","y":3.96,"x":-2.899,"x2":-2.241},
{"p":"B","k":"c","z":9,"l":8,"g":"b8a","y":4.086,"x":-2.798,"x2":-2.342},
{"p":"B","k":"c","z":9,"l":8,"g":"b8a","y":4.149,"x":-2.689,"x2":-2.451},
{"p":"B","k":"c","z":9,"l":8,"g":"b8a","y":4.17,"x":-2.57,"x2":-2.57},
{"p":"A","k":"time","x":0.2,"y":13.4,"s":"t = 425 fs"},
{"p":"A","k":"meci","x":3.4,"y":10.0,"s":"MECI"},
{"p":"A","k":"pt","x":3.4,"y":8.74,"s":""},
{"p":"B","k":"time","x":0.15,"y":13.4,"s":"t = 620 fs"},
{"p":"B","k":"meci","x":3.35,"y":13.65,"s":"MECI"},
{"p":"B","k":"pt","x":3.35,"y":15.15,"s":""}
]},
"facet": {"column": {"field": "p", "type": "nominal", "title": null, "header": {"labelExpr": "datum.value == 'A' ? 'CASPT2(12,10)' : 'MRCI(10,10)'", "labelFont": "Liberation Serif", "labelFontSize": 23, "labelColor": "#222222", "labelPadding": 5}}},
"resolve": {"axis": {"x": "independent", "y": "independent"}},
"spec": {
 "width": 240, "height": 240,
 "encoding": {
  "x": {"field": "x", "type": "quantitative", "scale": {"domain": [-6, 6], "nice": false, "zero": false}, "axis": {"values": [-5, 0, 5], "title": "q₁"}},
  "y": {"field": "y", "type": "quantitative", "scale": {"domain": [-5, 16], "nice": false, "zero": false}, "axis": {"values": [-5, 0, 5, 10, 15], "title": "q₃"}}
 },
 "layer": [
  {"transform": [{"filter": "datum.k == 'c' && datum.z == 1"}], "mark": {"type": "area", "interpolate": "monotone", "opacity": 1}, "encoding": {"x2": {"field": "x2"}, "color": {"field": "l", "type": "ordinal", "scale": {"domain": [1,2,3,4,5,6,7,8], "range": ["#453781","#3b528b","#2d708e","#21908d","#27ad81","#5ec962","#aadc32","#fde725"]}, "legend": null}, "detail": {"field": "g"}}},
  {"transform": [{"filter": "datum.k == 'c' && datum.z == 2"}], "mark": {"type": "area", "interpolate": "monotone", "opacity": 1}, "encoding": {"x2": {"field": "x2"}, "color": {"field": "l", "type": "ordinal", "scale": {"domain": [1,2,3,4,5,6,7,8], "range": ["#453781","#3b528b","#2d708e","#21908d","#27ad81","#5ec962","#aadc32","#fde725"]}, "legend": null}, "detail": {"field": "g"}}},
  {"transform": [{"filter": "datum.k == 'c' && datum.z == 3"}], "mark": {"type": "area", "interpolate": "monotone", "opacity": 1}, "encoding": {"x2": {"field": "x2"}, "color": {"field": "l", "type": "ordinal", "scale": {"domain": [1,2,3,4,5,6,7,8], "range": ["#453781","#3b528b","#2d708e","#21908d","#27ad81","#5ec962","#aadc32","#fde725"]}, "legend": null}, "detail": {"field": "g"}}},
  {"transform": [{"filter": "datum.k == 'c' && datum.z == 4"}], "mark": {"type": "area", "interpolate": "monotone", "opacity": 1}, "encoding": {"x2": {"field": "x2"}, "color": {"field": "l", "type": "ordinal", "scale": {"domain": [1,2,3,4,5,6,7,8], "range": ["#453781","#3b528b","#2d708e","#21908d","#27ad81","#5ec962","#aadc32","#fde725"]}, "legend": null}, "detail": {"field": "g"}}},
  {"transform": [{"filter": "datum.k == 'c' && datum.z == 5"}], "mark": {"type": "area", "interpolate": "monotone", "opacity": 1}, "encoding": {"x2": {"field": "x2"}, "color": {"field": "l", "type": "ordinal", "scale": {"domain": [1,2,3,4,5,6,7,8], "range": ["#453781","#3b528b","#2d708e","#21908d","#27ad81","#5ec962","#aadc32","#fde725"]}, "legend": null}, "detail": {"field": "g"}}},
  {"transform": [{"filter": "datum.k == 'c' && datum.z == 6"}], "mark": {"type": "area", "interpolate": "monotone", "opacity": 1}, "encoding": {"x2": {"field": "x2"}, "color": {"field": "l", "type": "ordinal", "scale": {"domain": [1,2,3,4,5,6,7,8], "range": ["#453781","#3b528b","#2d708e","#21908d","#27ad81","#5ec962","#aadc32","#fde725"]}, "legend": null}, "detail": {"field": "g"}}},
  {"transform": [{"filter": "datum.k == 'c' && datum.z == 7"}], "mark": {"type": "area", "interpolate": "monotone", "opacity": 1}, "encoding": {"x2": {"field": "x2"}, "color": {"field": "l", "type": "ordinal", "scale": {"domain": [1,2,3,4,5,6,7,8], "range": ["#453781","#3b528b","#2d708e","#21908d","#27ad81","#5ec962","#aadc32","#fde725"]}, "legend": null}, "detail": {"field": "g"}}},
  {"transform": [{"filter": "datum.k == 'c' && datum.z == 8"}], "mark": {"type": "area", "interpolate": "monotone", "opacity": 1}, "encoding": {"x2": {"field": "x2"}, "color": {"field": "l", "type": "ordinal", "scale": {"domain": [1,2,3,4,5,6,7,8], "range": ["#453781","#3b528b","#2d708e","#21908d","#27ad81","#5ec962","#aadc32","#fde725"]}, "legend": null}, "detail": {"field": "g"}}},
  {"transform": [{"filter": "datum.k == 'c' && datum.z == 9"}], "mark": {"type": "area", "interpolate": "monotone", "opacity": 1}, "encoding": {"x2": {"field": "x2"}, "color": {"field": "l", "type": "ordinal", "scale": {"domain": [1,2,3,4,5,6,7,8], "range": ["#453781","#3b528b","#2d708e","#21908d","#27ad81","#5ec962","#aadc32","#fde725"]}, "legend": null}, "detail": {"field": "g"}}},
  {"transform": [{"filter": "datum.k == 'time'"}], "mark": {"type": "text", "fontSize": 18, "color": "#dcd3e6", "font": "Liberation Serif"}, "encoding": {"text": {"field": "s"}}},
  {"transform": [{"filter": "datum.k == 'meci'"}], "mark": {"type": "text", "fontSize": 16, "color": "#ff0000", "font": "Liberation Serif"}, "encoding": {"text": {"field": "s"}}},
  {"transform": [{"filter": "datum.k == 'pt'"}], "mark": {"type": "point", "filled": true, "size": 55, "color": "#ff0000", "opacity": 1}}
 ]
}
}
